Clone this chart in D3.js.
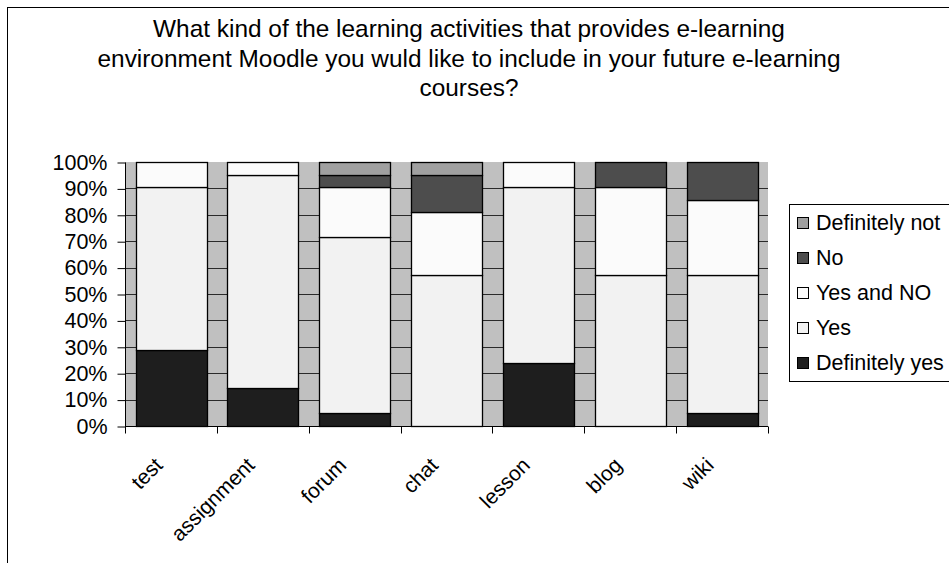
<!DOCTYPE html>
<html>
<head>
<meta charset="utf-8">
<script src="https://cdn.jsdelivr.net/npm/d3@7"></script>
<style>
body { margin: 0; background: #fff; }
text { font-family: "Liberation Sans", Arial, sans-serif; fill: #000; }
</style>
</head>
<body>
<svg id="chart"></svg>
<script>
var width = 949;
var height = 563;

// categories and series values (percent of answers)
var categories = ["test", "assignment", "forum", "chat", "lesson", "blog", "wiki"];
var definitelyYes = [28.6, 14.3, 4.8, 0, 23.8, 0, 4.8];
var yes = [61.9, 81.0, 66.7, 57.1, 66.7, 57.1, 52.4];
var yesAndNo = [9.5, 4.8, 19.0, 23.8, 9.5, 33.3, 28.6];
var no = [0, 0, 4.8, 14.3, 0, 9.5, 14.3];
var definitelyNot = [0, 0, 4.8, 4.8, 0, 0, 0];

var seriesNames = ["Definitely yes", "Yes", "Yes and NO", "No", "Definitely not"];
var seriesColors = ["#1e1e1e", "#f2f2f2", "#fbfbfb", "#4d4d4d", "#a0a0a0"];
var yTicks = [0, 0.1, 0.2, 0.3, 0.4, 0.5, 0.6, 0.7, 0.8, 0.9, 1];
var titleLines = [
	"What kind of the learning activities that provides e-learning",
	"environment Moodle you wuld like to include in your future e-learning",
	"courses?"
];

// build table for d3.stack
var table = categories.map(function (c, i) {
	return {
		cat: c,
		"Definitely yes": definitelyYes[i],
		"Yes": yes[i],
		"Yes and NO": yesAndNo[i],
		"No": no[i],
		"Definitely not": definitelyNot[i]
	};
});

var stacked = d3.stack().keys(seriesNames).offset(d3.stackOffsetExpand)(table);

// plot area (named so they don't clash with window.top)
var pLeft = 125, pRight = 768, pTop = 162, pBottom = 426;

var x = d3.scaleBand()
	.domain(categories)
	.range([pLeft, pRight])
	.paddingInner(0.23)
	.paddingOuter(0.115);

var y = d3.scaleLinear()
	.domain([0, 1])
	.range([pBottom, pTop]);

var color = d3.scaleOrdinal().domain(seriesNames).range(seriesColors);

var svg = d3.select("#chart")
	.attr("width", width)
	.attr("height", height);

// outer frame
svg.append("rect")
	.attr("x", 7.5).attr("y", 7.5)
	.attr("width", width).attr("height", height)
	.style("fill", "#fff")
	.style("stroke", "#000")
	.style("stroke-width", 1);

// title
svg.append("text")
	.attr("text-anchor", "middle")
	.style("font-size", "24.4px")
	.selectAll("tspan")
	.data(titleLines)
	.enter()
	.append("tspan")
	.attr("x", 469)
	.attr("y", function (d, i) { return 37 + i * 29.5; })
	.text(function (d) { return d; });

// plot background
svg.append("rect")
	.attr("x", pLeft).attr("y", pTop)
	.attr("width", pRight - pLeft).attr("height", pBottom - pTop)
	.style("fill", "#c0c0c0");

// gridlines
svg.append("g")
	.selectAll("line")
	.data(yTicks.slice(1, -1))
	.enter()
	.append("line")
	.attr("x1", pLeft).attr("x2", pRight)
	.attr("y1", function (d) { return Math.round(y(d)) + 0.5; })
	.attr("y2", function (d) { return Math.round(y(d)) + 0.5; })
	.style("stroke", "#2a2a2a")
	.style("stroke-width", 1);

// bars
svg.append("g")
	.selectAll("g")
	.data(stacked)
	.enter()
	.append("g")
	.style("fill", function (d) { return color(d.key); })
	.selectAll("rect")
	.data(function (d) { return d.filter(function (s) { return s[1] - s[0] > 0; }); })
	.enter()
	.append("rect")
	.attr("x", function (d) { return Math.round(x(d.data.cat)) + 0.5; })
	.attr("width", Math.round(x.bandwidth()))
	.attr("y", function (d) { return Math.round(y(d[1])) + 0.5; })
	.attr("height", function (d) { return Math.round(y(d[0])) - Math.round(y(d[1])); })
	.style("stroke", "#000")
	.style("stroke-width", 1.3);

// y axis
var yAxis = d3.axisLeft(y)
	.tickValues(yTicks)
	.tickFormat(d3.format(".0%"))
	.tickSize(8)
	.tickPadding(10);

var yg = svg.append("g")
	.attr("transform", "translate(" + (pLeft + 0.5) + ",0.5)")
	.call(yAxis);
yg.select(".domain").remove();
yg.append("line").attr("y1", pTop).attr("y2", pBottom).style("stroke", "#000");
yg.attr("font-family", null).attr("font-size", null);
yg.selectAll("text").style("font-size", "21.5px");

// x axis with ticks on category boundaries
var xg = svg.append("g")
	.attr("transform", "translate(0," + (pBottom + 0.5) + ")");
xg.append("line")
	.attr("x1", pLeft).attr("x2", pRight)
	.style("stroke", "#000");
var step = x.step();
xg.selectAll(".bt")
	.data(d3.range(categories.length + 1))
	.enter()
	.append("line")
	.attr("x1", function (i) { return Math.round(pLeft + i * step) + 0.5; })
	.attr("x2", function (i) { return Math.round(pLeft + i * step) + 0.5; })
	.attr("y1", 0).attr("y2", 7)
	.style("stroke", "#000");
xg.selectAll(".lbl")
	.data(categories)
	.enter()
	.append("text")
	.attr("text-anchor", "end")
	.attr("transform", function (d) {
		return "translate(" + (x(d) + x.bandwidth() / 2 - 7) + ",40) rotate(-45)";
	})
	.style("font-size", "21px")
	.text(function (d) { return d; });

// legend
var legend = svg.append("g");
legend.append("rect")
	.attr("x", 789.5).attr("y", 204.5)
	.attr("width", 200).attr("height", 177)
	.style("fill", "#fff")
	.style("stroke", "#000");

var legendOrder = seriesNames.slice().reverse();
var item = legend.selectAll(".item")
	.data(legendOrder)
	.enter()
	.append("g")
	.attr("transform", function (d, i) { return "translate(0," + (222 + i * 35) + ")"; });
item.append("rect")
	.attr("x", 797.5).attr("y", -4.5)
	.attr("width", 11).attr("height", 11)
	.style("fill", function (d) { return color(d); })
	.style("stroke", "#000");
item.append("text")
	.attr("x", 816)
	.attr("y", 8)
	.style("font-size", "21.5px")
	.text(function (d) { return d; });
</script>
</body>
</html>
